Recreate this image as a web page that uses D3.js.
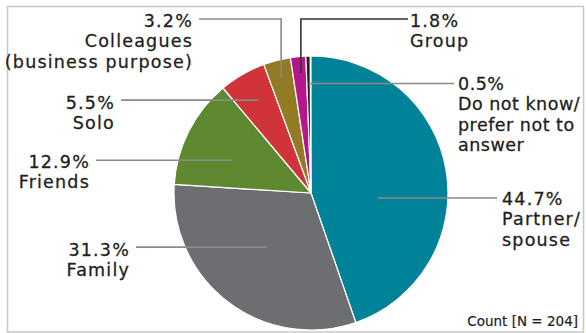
<!DOCTYPE html>
<html>
<head>
<meta charset="utf-8">
<script src="https://cdn.jsdelivr.net/npm/d3@7/dist/d3.min.js"></script>
<style>
  html, body { margin: 0; padding: 0; background: #fff; }
  svg { display: block; }
  text { font-family: "DejaVu Sans", sans-serif; fill: #231f20; }
</style>
</head>
<body>
<svg id="chart" width="586" height="333"></svg>
<script>
// Who respondents travel with (share of responses, %)
const categories = ["Partner/\nspouse", "Family", "Friends", "Solo",
  "Colleagues\n(business purpose)", "Group", "Do not know/\nprefer not to\nanswer"];
const values = [44.7, 31.3, 12.9, 5.5, 3.2, 1.8, 0.5];
const colors = ["#008299", "#6d6e71", "#5f8931", "#d13438", "#937b25", "#b5168b", "#231f20"];
const note = "Count [N = 204]";

const svg = d3.select("#chart");

// outer frame
svg.append("rect")
  .attr("x", 7.5).attr("y", 6.5).attr("width", 576).attr("height", 325.5)
  .attr("fill", "none").attr("stroke", "#c8c8c8").attr("stroke-width", 1.5);

const cx = 311, cy = 193, R = 137;
const g = svg.append("g").attr("transform", `translate(${cx},${cy})`);

const data = categories.map((c, i) => ({ label: c, value: values[i], color: colors[i] }));
const pie = d3.pie().value(d => d.value).sort(null)
  .startAngle(0).endAngle(2 * Math.PI * d3.sum(values) / 100);
const arcs = pie(data);
const arc = d3.arc().innerRadius(0).outerRadius(R);

g.selectAll("path.slice").data(arcs).join("path")
  .attr("class", "slice")
  .attr("d", arc)
  .attr("fill", d => d.data.color)
  .attr("stroke", "#fff").attr("stroke-width", 1.2).attr("stroke-linejoin", "round");

// leader anchors: position inside each slice (fraction of angle span, fraction of radius)
// and the label placement
const layout = [
  { t: 0.586, k: 0.49, type: "h", lx: 497, tx: 502, ty: 205, anchor: "start", line: "#8a8a8a", ls: 1.2 },
  { t: 0.517, k: 0.51, type: "h", lx: 136, tx: 130, ty: 256, anchor: "end", line: "#8a8a8a", ls: 1.2 },
  { t: 0.41,  k: 0.62, type: "h", lx: 96,  tx: 90,  ty: 168, anchor: "end", line: "#8a8a8a", ls: 1.2 },
  { t: 0.52,  k: 0.78, type: "h", lx: 121, tx: 115, ty: 109, anchor: "end", line: "#8a8a8a", ls: 1.2 },
  { t: 0.49,  k: 0.87, type: "v", ly: 19, lx: 199, tx: 193, ty: 27, anchor: "end", line: "#8a8a8a", ls: 1.2 },
  { t: 0.59,  k: 0.88, type: "v", ly: 19, lx: 408, tx: 410, ty: 27, anchor: "start", line: "#333", ls: 1.2 },
  { t: 0.5,   k: 0.8,  type: "h", lx: 454, tx: 458, ty: 90, anchor: "start", line: "#8a8a8a", ls: 0.5 }
];

function anchorPoint(a, L) {
  const ang = a.startAngle + L.t * (a.endAngle - a.startAngle);
  const r = L.k * R;
  return [cx + r * Math.sin(ang), cy - r * Math.cos(ang)];
}

const fmt = d3.format(".1f");
const lineH = 20.3;

arcs.forEach((a, i) => {
  const L = layout[i];
  const [px, py] = anchorPoint(a, L);
  let pts;
  if (L.type === "h") pts = [[px, py], [L.lx, py]];
  else pts = [[px, py], [px, L.ly], [L.lx, L.ly]];
  svg.append("path")
    .attr("d", d3.line()(pts))
    .attr("fill", "none")
    .attr("stroke", L.line)
    .attr("stroke-width", 1.6);

  const lines = [fmt(a.data.value) + "%"].concat(a.data.label.split("\n"));
  const t = svg.append("text")
    .attr("text-anchor", L.anchor)
    .attr("stroke", "#231f20").attr("stroke-width", 0.3)
    .style("font-size", "17.5px")
    .style("letter-spacing", L.ls + "px");
  lines.forEach((s, j) => {
    t.append("tspan")
      .attr("x", L.tx)
      .attr("y", L.ty + j * lineH)
      .text(s);
  });
});

svg.append("text")
  .attr("x", 578).attr("y", 326)
  .attr("text-anchor", "end")
  .attr("stroke", "#231f20").attr("stroke-width", 0.2)
  .style("font-size", "13.5px")
  .text(note);
</script>
</body>
</html>
